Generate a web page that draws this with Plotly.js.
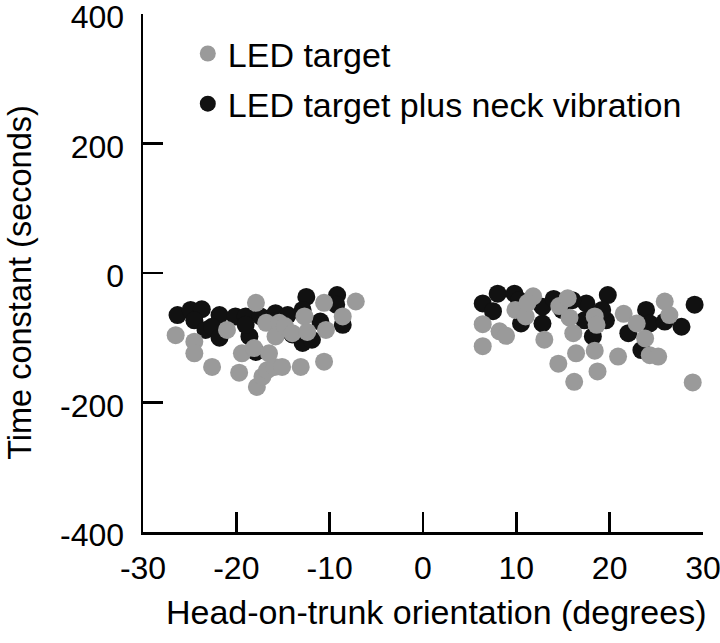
<!DOCTYPE html>
<html>
<head>
<meta charset="utf-8">
<script src="https://cdn.plot.ly/plotly-3.0.1.min.js"></script>
<style>html,body{margin:0;padding:0;background:#fff;}#chart{width:720px;height:643px;}</style>
</head>
<body>
<div id="chart"></div>
<script>
// LED target (gray)
const ledX = [-26.5,-24.5,-24.5,-22.6,-21.0,-19.7,-19.4,-18.1,-17.9,-17.8,-17.2,-16.7,-16.8,-16.5,-15.9,-15.8,-15.4,-14.8,-15.1,-14.0,-13.1,-12.7,-12.4,-10.6,-10.4,-10.6,-8.6,-7.2,
  6.4,6.4,8.2,8.9,9.9,11.0,11.8,11.2,13.0,14.5,14.6,15.5,15.7,16.1,16.4,16.2,18.4,18.6,18.4,18.7,20.9,21.5,22.9,23.8,24.3,25.2,25.9,26.4,28.9];
const ledY = [-96,-106,-124,-145,-88,-154,-124,-116,-46,-176,-160,-150,-77,-124,-145,-98,-77,-82,-145,-93,-145,-67,-91,-46,-88,-137,-67,-44,
  -79,-113,-90,-97,-57,-67,-36,-46,-103,-140,-51,-39,-69,-93,-124,-168,-67,-80,-120,-152,-129,-63,-78,-101,-127,-129,-44,-65,-169];
// LED target plus neck vibration (black)
const vibX = [-26.3,-24.9,-23.7,-24.5,-23.3,-21.8,-22.6,-21.8,-20.1,-19.0,-17.4,-18.6,-17.9,-15.8,-14.5,-12.5,-12.9,-12.9,-11.9,-9.2,-9.3,-8.6,-15.0,-14.0,-11.0,-19.0,-16.0,
  6.4,8.0,7.5,9.8,10.5,12.8,12.8,14.0,17.5,19.8,18.2,19.6,17.3,19.2,22.0,23.9,24.3,23.4,25.9,27.7,29.1,10.3,14.9,16.0];
const vibY = [-65,-57,-56,-73,-88,-65,-83,-100,-67,-67,-67,-98,-122,-62,-65,-37,-57,-108,-103,-34,-49,-80,-85,-95,-75,-80,-75,
  -47,-32,-59,-32,-78,-78,-52,-40,-47,-34,-98,-73,-73,-57,-93,-57,-78,-119,-75,-83,-49,-42,-57,-42];
const xTickVals = [-30,-20,-10,0,10,20,30];
const xTickText = ['-30','-20','-10','0','10','20','30'];
const yTickVals = [-400,-200,0,200,400];
const yTickText = ['-400','-200','0','200','400'];
const xTitle = 'Head-on-trunk orientation (degrees)';
const yTitle = 'Time constant (seconds)';

const FONT = 'Arial, "Liberation Sans", Helvetica, sans-serif';
const data = [
  {x: vibX, y: vibY, type: 'scatter', mode: 'markers', name: 'LED target plus neck vibration',
   legendgroup: 'b', legendrank: 2, cliponaxis: false, marker: {color: '#111111', size: 18}},
  {x: ledX, y: ledY, type: 'scatter', mode: 'markers', name: 'LED target',
   legendgroup: 'a', legendrank: 1, cliponaxis: false, marker: {color: '#9a9a9a', size: 18}}
];
const axisCommon = {showline: true, linewidth: 2.5, linecolor: '#000', ticks: 'inside', ticklen: 20,
  tickwidth: 2.5, tickcolor: '#000', showgrid: false, zeroline: false, tickmode: 'array',
  ticklabeloverflow: 'allow',
  tickfont: {family: FONT, size: 32, color: '#000'}};
const layout = {
  width: 720, height: 643,
  margin: {l: 143, r: 17, t: 14, b: 111},
  paper_bgcolor: '#fff', plot_bgcolor: '#fff',
  font: {family: FONT, size: 32, color: '#000'},
  xaxis: Object.assign({}, axisCommon, {range: [-30, 30], tickvals: xTickVals, ticktext: xTickText,
    ticklabelstandoff: 6}),
  yaxis: Object.assign({}, axisCommon, {range: [-400, 400], tickvals: yTickVals, ticktext: yTickText,
    ticklabelstandoff: 10, ticklabelshift: 3}),
  annotations: [
    {text: xTitle, xref: 'paper', yref: 'paper', x: 0.524, y: (532 - 612) / 518,
     xanchor: 'center', yanchor: 'middle', showarrow: false,
     font: {family: FONT, size: 34, color: '#000'}},
    {text: yTitle, xref: 'paper', yref: 'paper', x: (20 - 143) / 560, y: 0.481, textangle: -90,
     xanchor: 'center', yanchor: 'middle', showarrow: false,
     font: {family: FONT, size: 32.5, color: '#000'}}
  ],
  showlegend: true,
  legend: {x: 0.08, y: 0.979, xanchor: 'left', yanchor: 'top', bgcolor: 'rgba(0,0,0,0)',
    traceorder: 'grouped', tracegroupgap: 3,
    font: {family: FONT, size: 34, color: '#000'}}
};
Plotly.newPlot('chart', data, layout, {displayModeBar: false, staticPlot: true});
</script>
</body>
</html>
